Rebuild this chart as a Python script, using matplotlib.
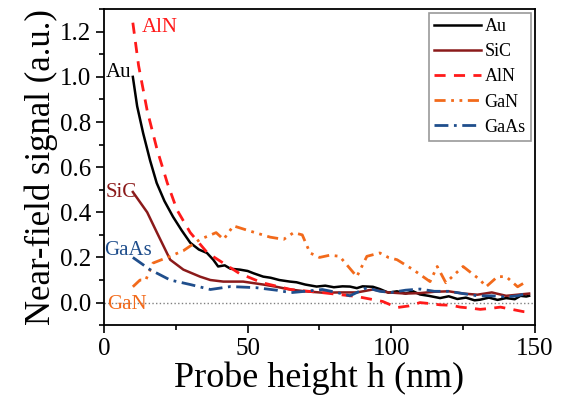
import numpy as np
import matplotlib.pyplot as plt
from matplotlib.ticker import MultipleLocator

plt.rcParams['font.family'] = ['Liberation Serif', 'DejaVu Serif']

au_h = [10, 11.5, 13.6, 16, 18.3, 21, 24, 27, 30, 33, 35.8, 38, 39.7, 42, 44, 47.3, 50, 52, 55.4, 58,
        61, 64.7, 67, 70, 74, 77, 80, 83, 85.6, 88, 90, 93.6, 96, 99, 102, 105, 107.6, 110, 113,
        117, 120, 123, 126, 129, 131, 134, 137, 140, 143, 145, 147, 148]
au_s = [1.0, 0.87, 0.75, 0.63, 0.53, 0.45, 0.38, 0.32, 0.265, 0.235, 0.22, 0.19, 0.16, 0.165, 0.15, 0.146,
        0.14, 0.13, 0.115, 0.11, 0.1, 0.093, 0.09, 0.08, 0.071, 0.075, 0.068, 0.072, 0.071, 0.064, 0.072,
        0.07, 0.06, 0.044, 0.05, 0.04, 0.05, 0.036, 0.03, 0.02, 0.028, 0.016, 0.022, 0.01, 0.013, 0.022,
        0.012, 0.02, 0.015, 0.03, 0.027, 0.03]

sic_h = [10, 15, 18.4, 23, 27.6, 33.4, 37, 41.5, 48.4, 55.4, 60, 64.7, 70, 76, 82, 88, 93.6, 99,
         105, 110, 115, 120, 125, 130, 135, 140, 144, 148]
sic_s = [0.49, 0.40, 0.31, 0.19, 0.146, 0.115, 0.1, 0.093, 0.093, 0.08, 0.07, 0.058, 0.05, 0.044, 0.045,
         0.045, 0.058, 0.045, 0.04, 0.042, 0.048, 0.05, 0.04, 0.035, 0.045, 0.03, 0.035, 0.04]

aln_h = [10, 12, 15, 18.4, 22, 25.4, 30, 36, 41.5, 47, 55, 65, 76, 88, 97, 102, 106, 110, 114, 117,
         121, 124, 128, 131, 135, 138, 142, 146, 148]
aln_s = [1.24, 1.05, 0.85, 0.68, 0.53, 0.41, 0.31, 0.22, 0.175, 0.13, 0.088, 0.058, 0.044, 0.027, 0.005,
         -0.022, -0.015, 0.0, -0.005, -0.01, -0.012, -0.02, -0.025, -0.03, -0.025, -0.02, -0.03, -0.04, -0.042]

gan_h = [10, 12.5, 14.5, 17, 22, 27.6, 33.4, 39, 41.6, 45, 50, 57.8, 62.5, 66, 69, 71.7, 75, 78.6, 82,
         88, 91.5, 96, 99, 102, 107.6, 113.5, 116, 119, 125, 131, 133, 137, 140, 144, 147]
gan_s = [0.07, 0.10, 0.10, 0.175, 0.2, 0.23, 0.28, 0.31, 0.28, 0.34, 0.32, 0.29, 0.28, 0.31, 0.30, 0.22,
         0.2, 0.21, 0.205, 0.115, 0.205, 0.22, 0.2, 0.19, 0.146, 0.093, 0.16, 0.088, 0.16, 0.1, 0.07,
         0.115, 0.115, 0.07, 0.093]

gaas_h = [10, 16, 23, 30, 37, 44, 53, 60, 65, 70, 76, 81, 85.6, 91.5, 96, 100, 105, 110, 115, 120, 125,
          130, 135, 140, 144, 147]
gaas_s = [0.2, 0.146, 0.10, 0.08, 0.058, 0.071, 0.066, 0.055, 0.044, 0.05, 0.058, 0.045, 0.03, 0.066,
          0.05, 0.045, 0.055, 0.06, 0.05, 0.05, 0.04, 0.03, 0.03, 0.025, 0.03, 0.04]

fig = plt.figure(figsize=(5.69, 3.98), dpi=100)
ax = fig.add_axes([0.183, 0.183, 0.757, 0.794])

ax.axhline(0, color='gray', lw=1.0, ls=':', zorder=1)
ax.plot(au_h, au_s, color='black', lw=1.8, label='Au')
ax.plot(sic_h, sic_s, color='#8b1a1a', lw=1.8, label='SiC')
ax.plot(aln_h, aln_s, color='#ff1a1a', lw=2.0, ls=(0, (4, 3)), label='AlN')
ax.plot(gan_h, gan_s, color='#f26a1b', lw=2.0, ls=(0, (4, 2, 1, 2, 1, 2)), label='GaN')
ax.plot(gaas_h, gaas_s, color='#1f4e8c', lw=2.0, ls=(0, (5, 2, 1, 2)), label='GaAs')

ax.text(13, 1.2, 'AlN', color='#ff1a1a', fontsize=15)
ax.text(0.5, 1.0, 'Au', color='black', fontsize=15)
ax.text(0.5, 0.47, 'SiC', color='#8b1a1a', fontsize=15)
ax.text(0, 0.21, 'GaAs', color='#1f4e8c', fontsize=15)
ax.text(1, -0.03, 'GaN', color='#f26a1b', fontsize=15)

ax.set_xlim(0, 150)
ax.set_ylim(-0.1, 1.3)
ax.xaxis.set_major_locator(MultipleLocator(50))
ax.xaxis.set_minor_locator(MultipleLocator(25))
ax.yaxis.set_minor_locator(MultipleLocator(0.1))
ax.set_yticks([0, 0.2, 0.4, 0.6, 0.8, 1.0, 1.2])
ax.set_yticklabels(['0.0', '0.2', '0.4', '0.6', '0.8', '1.0', '1.2'])
ax.tick_params(which='both', direction='out', labelsize=18, width=1.2)
ax.tick_params(which='major', length=6)
ax.tick_params(which='minor', length=3.5)
for s in ax.spines.values():
    s.set_linewidth(1.3)

ax.set_xlabel('Probe height h (nm)', fontsize=26, labelpad=1)
ax.set_ylabel('Near-field signal (a.u.)', fontsize=25, labelpad=1)

leg = ax.legend(loc='upper right', fontsize=13, frameon=True, fancybox=False, handlelength=2.6,
                handletextpad=0.2, labelspacing=0.45, borderpad=0.3, borderaxespad=0.2)
leg.get_frame().set_edgecolor('gray')
leg.get_frame().set_linewidth(1.2)

fig.savefig('out.png', dpi=100)
